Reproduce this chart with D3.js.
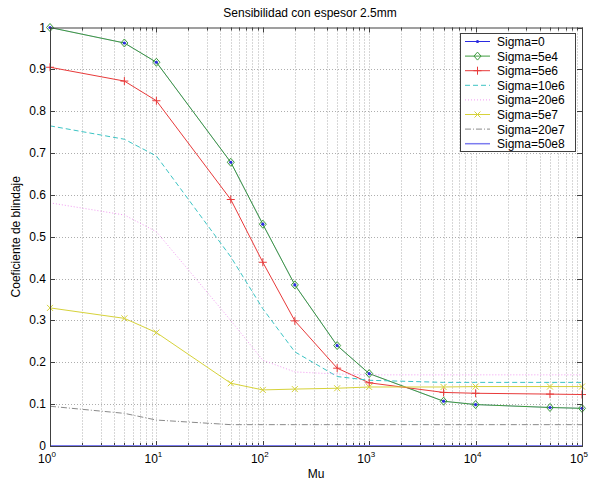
<!DOCTYPE html>
<html lang="es">
<head>
<meta charset="utf-8">
<script src="https://d3js.org/d3.v7.min.js"></script>
<style>
  body { margin: 0; background: #fff; }
  svg { font-family: "Liberation Sans", Arial, sans-serif; }
</style>
</head>
<body>
<div id="chart"></div>
<script>

// Mu values (x, log scale)
var mu = [1, 5, 10, 50, 100, 200, 500, 1000, 5000, 10000, 50000, 100000];

// coefficient values, one array per sigma
var sig0    = [1.0, 0.963, 0.917, 0.678, 0.530, 0.385, 0.240, 0.173, 0.107, 0.099, 0.092, 0.090];
var sig5e4  = [1.0, 0.963, 0.917, 0.678, 0.530, 0.385, 0.240, 0.173, 0.107, 0.099, 0.092, 0.090];
var sig5e6  = [0.905, 0.872, 0.825, 0.589, 0.439, 0.299, 0.186, 0.151, 0.128, 0.126, 0.124, 0.123];
var sig10e6 = [0.765, 0.733, 0.693, 0.452, 0.328, 0.225, 0.166, 0.157, 0.152, 0.152, 0.152, 0.152];
var sig20e6 = [0.581, 0.552, 0.512, 0.300, 0.205, 0.177, 0.172, 0.170, 0.170, 0.170, 0.170, 0.170];
var sig5e7  = [0.330, 0.305, 0.271, 0.150, 0.134, 0.136, 0.138, 0.141, 0.141, 0.142, 0.142, 0.142];
var sig20e7 = [0.095, 0.078, 0.062, 0.051, 0.051, 0.051, 0.051, 0.051, 0.051, 0.051, 0.051, 0.051];
var sig50e8 = [0, 0, 0, 0, 0, 0, 0, 0, 0, 0, 0, 0];

var yTicks = [0, 0.1, 0.2, 0.3, 0.4, 0.5, 0.6, 0.7, 0.8, 0.9, 1];
var xTicks = [1, 10, 100, 1000, 10000, 100000];

var series = [
  {name: "Sigma=0",    vals: sig0,    color: "#2a2ae0", dash: null,    marker: "dot"},
  {name: "Sigma=5e4",  vals: sig5e4,  color: "#3d9a3d", dash: null,    marker: "diamond"},
  {name: "Sigma=5e6",  vals: sig5e6,  color: "#e83a3a", dash: null,    marker: "plus"},
  {name: "Sigma=10e6", vals: sig10e6, color: "#3cc4c4", dash: "5,3",   marker: null},
  {name: "Sigma=20e6", vals: sig20e6, color: "#f29af2", dash: "1,2",   marker: null},
  {name: "Sigma=5e7",  vals: sig5e7,  color: "#d6d23a", dash: null,    marker: "x"},
  {name: "Sigma=20e7", vals: sig20e7, color: "#8a8a8a", dash: "6,2,1,2", marker: null},
  {name: "Sigma=50e8", vals: sig50e8, color: "#7c7cf0", dash: null,    marker: null}
];

var W = 597, H = 483;
var mLeft = 50, mRight = 582, mTop = 27.5, mBottom = 446;

var svg = d3.select("#chart").append("svg")
  .attr("width", W).attr("height", H);

var x = d3.scaleLog().domain([1, 100000]).range([mLeft, mRight]);
var y = d3.scaleLinear().domain([0, 1]).range([mBottom, mTop]);

// grid
var minor = [];
for (var e = 0; e < 5; e++) for (var k = 1; k < 10; k++) minor.push(k * Math.pow(10, e));
minor.push(100000);

var grid = svg.append("g").attr("stroke", "#999").attr("stroke-width", 0.8)
  .attr("stroke-dasharray", "1,2").attr("fill", "none");
grid.selectAll(".gx").data(minor.filter(function(d){ return d > 1 && d < 100000; }))
  .enter().append("line")
  .attr("x1", function(d){ return Math.round(x(d)) + 0.5; })
  .attr("x2", function(d){ return Math.round(x(d)) + 0.5; })
  .attr("y1", mTop).attr("y2", mBottom);
grid.selectAll(".gy").data(yTicks.slice(1, -1))
  .enter().append("line")
  .attr("y1", function(d){ return Math.round(y(d)) + 0.5; })
  .attr("y2", function(d){ return Math.round(y(d)) + 0.5; })
  .attr("x1", mLeft).attr("x2", mRight);

// ticks on all four sides (inside)
var ticks = svg.append("g").attr("stroke", "#404040").attr("stroke-width", 1);
minor.forEach(function(d) {
  var isMajor = xTicks.indexOf(d) >= 0;
  var len = isMajor ? 5 : 3;
  var px = Math.round(x(d)) + 0.5;
  ticks.append("line").attr("x1", px).attr("x2", px).attr("y1", mBottom).attr("y2", mBottom - len);
  ticks.append("line").attr("x1", px).attr("x2", px).attr("y1", mTop).attr("y2", mTop + len);
});
yTicks.forEach(function(d) {
  var py = Math.round(y(d)) + 0.5;
  ticks.append("line").attr("x1", mLeft).attr("x2", mLeft + 5).attr("y1", py).attr("y2", py);
  ticks.append("line").attr("x1", mRight).attr("x2", mRight - 5).attr("y1", py).attr("y2", py);
});

// lines
var line = d3.line()
  .x(function(d, i){ return x(mu[i]); })
  .y(function(d){ return y(d); });

series.forEach(function(s) {
  svg.append("path")
    .attr("d", line(s.vals))
    .attr("fill", "none")
    .attr("stroke", s.color)
    .attr("stroke-width", s.name === "Sigma=50e8" ? 2.2 : (s.name === "Sigma=0" ? 0.6 : 1))
    .attr("stroke-opacity", s.name === "Sigma=0" ? 0.5 : 1)
    .attr("stroke-dasharray", s.dash);
});

function drawMarker(g, type, cx, cy, color) {
  if (type === "dot") {
    g.append("circle").attr("cx", cx).attr("cy", cy).attr("r", 1.6).attr("fill", color);
  } else if (type === "diamond") {
    g.append("path")
      .attr("d", "M" + cx + "," + (cy - 4) + "L" + (cx + 3.5) + "," + cy + "L" + cx + "," + (cy + 4) + "L" + (cx - 3.5) + "," + cy + "Z")
      .attr("fill", "none").attr("stroke", color).attr("stroke-width", 1);
  } else if (type === "plus") {
    g.append("path")
      .attr("d", "M" + (cx - 4) + "," + cy + "H" + (cx + 4) + "M" + cx + "," + (cy - 4) + "V" + (cy + 4))
      .attr("stroke", color).attr("stroke-width", 1);
  } else if (type === "x") {
    g.append("path")
      .attr("d", "M" + (cx - 3) + "," + (cy - 3) + "L" + (cx + 3) + "," + (cy + 3) + "M" + (cx - 3) + "," + (cy + 3) + "L" + (cx + 3) + "," + (cy - 3))
      .attr("stroke", color).attr("stroke-width", 1);
  }
}

// markers drawn after the lines; blue dots last so they show in the diamonds
var order = [1, 2, 5, 0];
order.forEach(function(si) {
  var s = series[si];
  var g = svg.append("g");
  s.vals.forEach(function(v, i) {
    drawMarker(g, s.marker, x(mu[i]), y(v), s.color);
  });
});

// axes box
svg.append("rect")
  .attr("x", mLeft + 0.5).attr("y", mTop + 0.5)
  .attr("width", mRight - mLeft).attr("height", mBottom - mTop)
  .attr("fill", "none").attr("stroke", "#404040").attr("stroke-width", 1);

// y tick labels
svg.selectAll(".yl").data(yTicks).enter().append("text")
  .attr("x", mLeft - 4)
  .attr("y", function(d){ return y(d) + 4; })
  .attr("text-anchor", "end")
  .attr("font-size", 12)
  .text(function(d){ return d3.format("")(+d.toFixed(1)); });

// x tick labels 10^n
xTicks.forEach(function(d, i) {
  var t = svg.append("text")
    .attr("x", x(d) - 3)
    .attr("y", 463)
    .attr("text-anchor", "middle")
    .attr("font-size", 12);
  t.append("tspan").text("10");
  t.append("tspan").attr("dy", -6).attr("font-size", 8).text(i);
});

// title and labels
svg.append("text")
  .attr("x", (mLeft + mRight) / 2 - 6).attr("y", 17)
  .attr("text-anchor", "middle").attr("font-size", 12)
  .text("Sensibilidad con espesor 2.5mm");

svg.append("text")
  .attr("x", (mLeft + mRight) / 2).attr("y", 478)
  .attr("text-anchor", "middle").attr("font-size", 12)
  .text("Mu");

svg.append("text")
  .attr("transform", "translate(20," + ((mTop + mBottom) / 2) + ") rotate(-90)")
  .attr("text-anchor", "middle").attr("font-size", 12)
  .text("Coeficiente de blindaje");

// legend
var lg = svg.append("g");
lg.append("rect")
  .attr("x", 460.5).attr("y", 33.5).attr("width", 115).attr("height", 118)
  .attr("fill", "#fff").attr("stroke", "#404040").attr("stroke-width", 1);
series.forEach(function(s, i) {
  var cy = 41.5 + i * 14.6;
  lg.append("line")
    .attr("x1", 465).attr("x2", 490).attr("y1", cy).attr("y2", cy)
    .attr("stroke", s.color)
    .attr("stroke-width", s.name === "Sigma=50e8" ? 1.5 : 1)
    .attr("stroke-dasharray", s.dash);
  if (s.marker) drawMarker(lg, s.marker, 477.5, cy, s.color);
  lg.append("text")
    .attr("x", 497).attr("y", cy + 4.5)
    .attr("font-size", 12)
    .text(s.name);
});

</script>
</body>
</html>
